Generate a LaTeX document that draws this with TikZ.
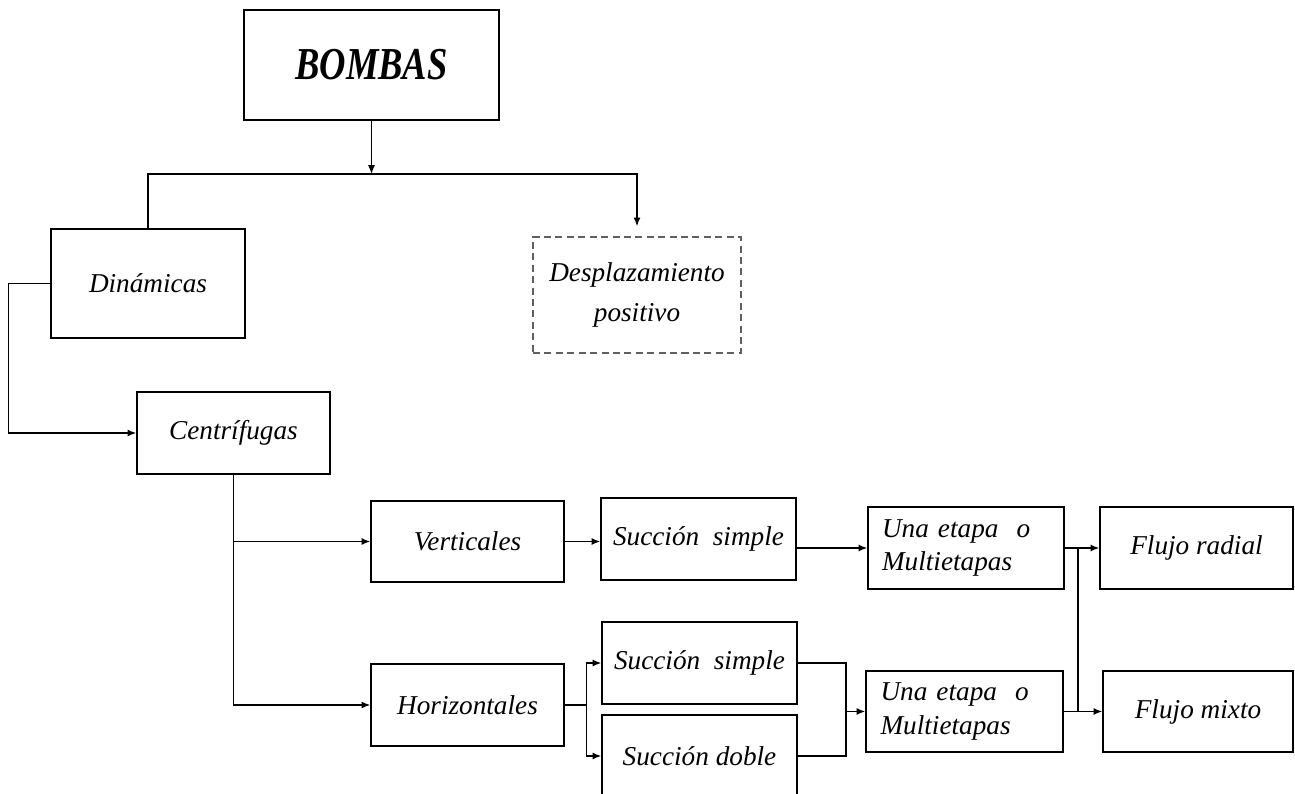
\documentclass[tikz,border=0pt]{standalone}
\usepackage{fontspec}
\setmainfont{Liberation Serif}
\newfontfamily\titlefont[FakeStretch=0.8]{Liberation Serif}
\usetikzlibrary{arrows.meta}

\tikzset{
  box/.style={draw, line width=0.8pt, inner sep=0pt, align=center,
    font=\itshape\fontsize{15.5}{19}\selectfont},
  dashbox/.style={box, draw=gray!75!black, dash pattern=on 4pt off 2.5pt},
  arr/.style={-{Latex[length=5pt,width=4pt]}},
}

\begin{document}
\begin{tikzpicture}[x=0.02cm, y=-0.02cm, line width=0.8pt]
  \path[use as bounding box, clip] (0,0) rectangle (1295,794);
  % Boxes
  \node[box, minimum width=5.1cm, minimum height=2.2cm,
    font=\titlefont\bfseries\itshape\fontsize{26}{30}\selectfont] (bombas) at (371.5,65) {BOMBAS};
  \node[box, minimum width=3.88cm, minimum height=2.18cm] (din) at (148,283.5) {Dinámicas};
  \node[dashbox, minimum width=4.16cm, minimum height=2.32cm,
    font=\itshape\fontsize{15.5}{23}\selectfont] (desp) at (637,295) {Desplazamiento\\positivo};
  \node[box, minimum width=3.86cm, minimum height=1.64cm] (cen) at (233.5,433) {Centrífugas};
  \node[box, minimum width=3.86cm, minimum height=1.62cm] (vert) at (467.5,541.5) {Verticales};
  \node[box, minimum width=3.86cm, minimum height=1.64cm] (hor) at (467.5,705) {Horizontales};
  \node[box, minimum width=3.9cm, minimum height=1.64cm] (ss1) at (698.5,539) {Succión~ simple};
  \node[box, minimum width=3.9cm, minimum height=1.64cm] (ss2) at (699.5,663) {Succión~ simple};
  \node[box, minimum width=3.9cm, minimum height=1.64cm] (sd) at (699.5,756) {Succión doble};
  \node[box, minimum width=3.92cm, minimum height=1.64cm, align=left, text width=3.36cm]
    (una1) at (966,548) {Una etapa~ o\\Multietapas};
  \node[box, minimum width=3.94cm, minimum height=1.62cm, align=left, text width=3.36cm]
    (una2) at (964.5,711.5) {Una etapa~ o\\Multietapas};
  \node[box, minimum width=3.86cm, minimum height=1.64cm] (rad) at (1196.5,548) {Flujo radial};
  \node[box, minimum width=3.8cm, minimum height=1.62cm] (mix) at (1198,711.5) {Flujo mixto};
  % Junctions
  \coordinate (jtop) at (371.5,174);
  \coordinate (jr) at (1078,0);
  \coordinate (jv) at (846,0);
  % Connectors
  \draw[arr] (bombas.south) -- (jtop);
  \draw[arr, shorten >=0.2cm] (din.north) |- (jtop -| desp.north) -- (desp.north);
  \draw[arr] (din.west) -- ++(-42,0) |- (cen.west);
  \draw[arr] (cen.south) |- (vert.west);
  \draw[arr] (cen.south) |- (hor.west);
  \draw[arr] (vert.east) -- (vert.east -| ss1.west);
  \draw[arr] (ss1.east |- una1.west) -- (una1.west);
  \draw (hor.east) -- ++(22,0) coordinate (jh);
  \draw[arr] (jh) |- (ss2.west);
  \draw[arr] (jh) |- (sd.west);
  \draw (ss2.east) -| (jv |- sd.east) -- (sd.east);
  \draw[arr] (jv |- una2.west) -- (una2.west);
  \draw[arr] (una1.east) -- (rad.west);
  \draw[arr] (una2.east) -- (mix.west);
  \draw (jr |- rad.west) -- (jr |- mix.west);
\end{tikzpicture}
\end{document}
